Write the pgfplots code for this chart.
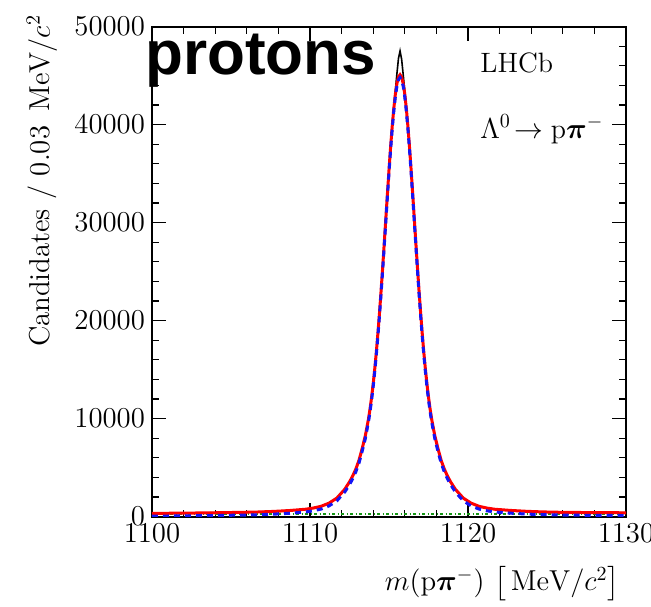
\documentclass[border=0pt]{standalone}
\usepackage{amsmath}
\usepackage{fontspec}
\usepackage{pgfplots}
\usepackage{pgfplotstable}
\pgfplotsset{compat=1.18}
\newfontfamily\protfont{Liberation Sans}
\definecolor{bkggreen}{RGB}{20,150,20}
\definecolor{sigblue}{RGB}{20,20,245}

\pgfplotstableread{
x sig tot dat
1100.0 40 320 330
1101.7 60 340 335
1103.7 95 375 380
1105.7 145 425 420
1106.7 180 460 470
1107.7 240 520 510
1108.7 330 610 620
1109.7 460 740 735
1110.2 580 860 870
1110.7 760 1040 1035
1111.2 1080 1360 1370
1111.7 1600 1880 1890
1112.2 2500 2780 2800
1112.5 3250 3530 3550
1112.7 3850 4130 4150
1112.9 4560 4840 4860
1113.1 5450 5730 5750
1113.3 6644 6924 6950
1113.5 7947 8227 8250
1113.7 9655 9935 9960
1113.8 10705 10985 11010
1113.9 11904 12184 12210
1114.0 13271 13551 13580
1114.1 14813 15093 15120
1114.2 16537 16817 16850
1114.3 18447 18727 18760
1114.4 20531 20811 20850
1114.5 22773 23053 23090
1114.6 25147 25427 25470
1114.7 27617 27897 27940
1114.8 30134 30414 30460
1114.9 32643 32923 32970
1115.0 35083 35363 35400
1115.1 37384 37664 37700
1115.2 39478 39758 39800
1115.3 41301 41581 41700
1115.4 42789 43069 43420
1115.5 43893 44173 45170
1115.6 44571 44851 46750
1115.7 44800 45080 47500
1115.8 44571 44851 46650
1115.9 43893 44173 45070
1116.0 42789 43069 43370
1116.1 41301 41581 41690
1116.2 39478 39758 39830
1116.3 37384 37664 37730
1116.4 35083 35363 35430
1116.5 32643 32923 33000
1116.6 30134 30414 30490
1116.7 27617 27897 27970
1116.8 25147 25427 25490
1116.9 22773 23053 23110
1117.0 20531 20811 20860
1117.1 18447 18727 18770
1117.2 16537 16817 16850
1117.3 14813 15093 15120
1117.4 13271 13551 13570
1117.5 11904 12184 12200
1117.6 10705 10985 11000
1117.7 9655 9935 9940
1117.9 7947 8227 8210
1118.1 6644 6924 6900
1118.3 5450 5730 5710
1118.5 4560 4840 4820
1118.7 3850 4130 4110
1118.9 3250 3530 3510
1119.2 2500 2780 2760
1119.7 1600 1880 1870
1120.2 1080 1360 1350
1120.7 760 1040 1035
1121.2 580 860 850
1121.7 460 740 750
1122.7 340 620 610
1123.7 250 530 540
1124.7 190 470 460
1125.7 155 435 440
1127.7 120 400 395
1130.0 100 380 385
}\fittable

\pgfplotstableread{
x bkg
1100 280
1130 280
}\bkgtable

\begin{document}
\begin{tikzpicture}
\useasboundingbox (-76pt,-44.75pt) rectangle (249.5pt,258.25pt);
\begin{axis}[
  at={(0,0)}, anchor=south west,
  scale only axis, width=237pt, height=245pt,
  xmin=1100, xmax=1130, ymin=0, ymax=50000,
  xtick={1100,1110,1120,1130},
  ytick={0,10000,20000,30000,40000,50000},
  minor x tick num=4, minor y tick num=4,
  tick align=inside, xtick pos=both, ytick pos=both,
  major tick length=7pt, minor tick length=3.5pt,
  axis line style={line width=1pt},
  tick style={line width=0.6pt, black},
  scaled y ticks=false, scaled x ticks=false,
  xticklabel style={/pgf/number format/1000 sep={}},
  yticklabel style={/pgf/number format/1000 sep={}},
  tick label style={font=\fontsize{14.4}{17}\selectfont},
  clip=true,
]
\addplot[bkggreen, line width=0.9pt, dash pattern=on 1.6pt off 1.2pt on 0.5pt off 1.2pt] table[x=x, y=bkg] {\bkgtable};
\addplot[black, line width=0.8pt] table[x=x, y=dat] {\fittable};
\addplot[red, line width=1.5pt] table[x=x, y=tot] {\fittable};
\addplot[sigblue, line width=1.5pt, dash pattern=on 3pt off 2.5pt] table[x=x, y=sig] {\fittable};
\end{axis}
\node[rotate=90, anchor=base east, inner sep=0pt, font=\fontsize{14.4}{17}\selectfont] at (-51pt,251pt) {Candidates / 0.03 $\,\mathrm{MeV}/c^{2}$};
\node[anchor=base east, inner sep=0pt, font=\fontsize{14.4}{17}\selectfont] at (234pt,-37pt) {$m(\mathrm{p}\boldsymbol{\pi}^{-})\,\left[\,\mathrm{MeV}/c^{2}\right]$};
\node[anchor=base west, inner sep=0pt, font=\fontsize{14}{17}\selectfont] at (164pt,221.75pt) {LHCb};
\node[anchor=base west, inner sep=0pt, font=\fontsize{14}{17}\selectfont] at (164pt,189.25pt) {$\Lambda^{0}\!\rightarrow \mathrm{p}\boldsymbol{\pi}^{-}$};
\node[anchor=base west, inner sep=0pt, font=\protfont\bfseries\fontsize{31}{36}\selectfont] at (-3.5pt,220.75pt) {protons};
\end{tikzpicture}
\end{document}
